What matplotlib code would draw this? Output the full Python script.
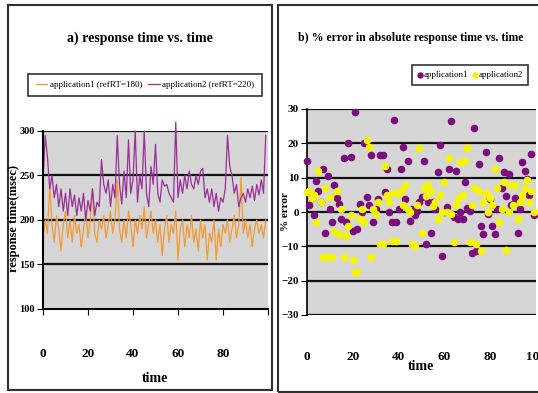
import numpy as np
import matplotlib
matplotlib.use("Agg")
import matplotlib.pyplot as plt
from matplotlib.patches import Rectangle

# data: response time (msec) per time step
t = np.arange(100)
app1_rt = [180, 200, 185, 240, 195, 175, 205, 190, 165, 195, 210, 180, 200, 175, 205, 185, 195, 170, 190, 210,
           180, 200, 235, 185, 175, 200, 190, 205, 180, 195, 210, 185, 200, 245, 190, 175, 200, 180, 210, 195,
           170, 200, 185, 205, 190, 215, 180, 195, 210, 185, 200, 175, 195, 160, 190, 205, 175, 195, 185, 210,
           155, 190, 200, 170, 195, 180, 205, 175, 190, 165, 200, 180, 195, 155, 185, 175, 200, 155, 190, 170,
           195, 185, 200, 175, 190, 205, 180, 195, 248, 185, 200, 180, 195, 170, 190, 200, 185, 195, 180, 200]
app2_rt = [245, 295, 270, 235, 250, 225, 240, 215, 235, 210, 230, 205, 235, 215, 228, 205, 225, 210, 230, 200,
           222, 210, 235, 205, 220, 215, 268, 240, 230, 245, 215, 240, 225, 295, 240, 218, 255, 225, 290, 230,
           245, 300, 220, 250, 235, 300, 230, 215, 260, 240, 285, 230, 220, 245, 238, 240, 230, 225, 220, 310,
           225, 245, 230, 250, 235, 255, 240, 235, 250, 240, 255, 258, 225, 235, 220, 235, 215, 230, 210, 225,
           220, 235, 295, 260, 250, 230, 240, 215, 225, 230, 220, 235, 225, 238, 222, 240, 228, 245, 230, 295]

# data: % error in absolute response time
app1_err = [15, 2, 4, -1, 9, 6, 3, 12.6, -6, 10.5, 1, -3, 8, 4, 2.4, -2, 15.6, -3, 20, 16,
            -5.6, 29, -5, 2.4, 0, 20, 4.5, 2, 16.5, -3, 1, 3.8, 16.5, 16.5, 5.8, 12.6, 0, -3, 26.8, -3,
            1, 12.6, 19, 3.8, 15, -2.6, 1, -1, 0.3, 3, 4.4, 15, -9.4, 2.9, -6, 3, 1, 11.7, 19.5, -12.9,
            0, 1.5, 12.6, 26.4, -1.5, 12, -2, 0, -2, 8.8, 1.2, 0.3, -11.8, 24.4, -11.5, 14, -4, -6.5, 17.6, -0.6,
            3.8, -4, -6.5, 1, 15.6, 7, 11.7, 4.7, 11, 2, 2.4, 4, -6, 1, 14.7, 12, 9.7, 5, 17, -1]
app2_err = [5.8, 6, 4, 5, -3, 12, 3, -13, 7, -13, 4.5, -13, -5.6, 6, -6.5, 1, -13, -7, -4, -1,
            -14, -17.6, -17.4, -2, 1, -3, 21, 19, -13, 1, -0.6, 3, -9.4, -9.4, 13.5, 5, 3, -8.5, 5.5, -8.5,
            5.5, 6, 2, 8, 1, 0, -9.4, -10, 2, 18.5, -6, 7, 4.7, 8, 6, 1.8, 3, -2, 5, 0,
            8.8, 0, 15.6, -0.6, -8.8, 2, 4, 14.7, 5, 15, 18.5, -8.8, 2, 7, -9.4, 6, -11.5, 3, 5.6, 0,
            4, 2, 12.6, 7, -3, 1, 8.8, -11, 0, 8, 2, 8, -2, 3, 5, 7, 9.4, 3, 6, 0]

W, H = 538, 393
fig = plt.figure(figsize=(W / 100, H / 100), dpi=100)
serif = ["Liberation Serif", "DejaVu Serif"]
fnt = dict(family=serif, fontweight="bold")

def fr(x0, y0, x1, y1):
    return [x0 / W, 1 - y1 / H, (x1 - x0) / W, (y1 - y0) / H]

# panel frames
fig.patches.append(Rectangle((8 / W, 1 - 390 / H), 264 / W, 385 / H, transform=fig.transFigure,
                             fill=False, lw=1.5, ec="#303030"))
fig.patches.append(Rectangle((278 / W, 1 - 392 / H), 262 / W, 387 / H, transform=fig.transFigure,
                             fill=False, lw=1.5, ec="#303030"))

grey = "#D6D6D6"

# a) response time
ax1 = fig.add_axes(fr(43, 131, 268, 309))
ax1.set_facecolor(grey)
ax1.plot(t, app1_rt, color="#F39A35", lw=0.9, label="application1 (refRT=180)", clip_on=False)
ax1.plot(t, app2_rt, color="#9A2F9A", lw=0.9, label="application2 (refRT=220)", clip_on=False)
ax1.set_xlim(0, 100)
ax1.set_ylim(100, 300)
ax1.set_yticks([100, 150, 200, 250, 300])
ax1.set_xticks([0, 20, 40, 60, 80, 100])
ax1.set_xticklabels(["0", "20", "40", "60", "80", ""])
for v in [150, 200, 250, 300]:
    ax1.axhline(v, color="#111111", lw=1.6, zorder=1)
for s in ["top", "right"]:
    ax1.spines[s].set_visible(False)
ax1.spines["left"].set_linewidth(1.5)
ax1.spines["bottom"].set_linewidth(1.5)
ax1.tick_params(axis="x", direction="out", length=4, pad=24, labelsize=9.5)
ax1.tick_params(axis="y", direction="out", length=4, pad=2, labelsize=7.5)
for lb in ax1.get_xticklabels() + ax1.get_yticklabels():
    lb.set(**fnt)
ax1.set_xlabel("time", fontsize=10, labelpad=9, **fnt)
fig.text(14 / W, 1 - 218 / H, "response time(msec)", rotation=90, ha="center", va="center",
         fontsize=9, **fnt)
fig.text(140 / W, 1 - 38 / H, "a) response time vs. time", ha="center", va="center",
         fontsize=10, **fnt)
leg1 = ax1.legend(loc="center", bbox_to_anchor=(145 / W, 1 - 85 / H), bbox_transform=fig.transFigure,
                  ncol=2, frameon=True, fancybox=False, edgecolor="black", handlelength=1.3,
                  handletextpad=0.3, columnspacing=0.6, borderpad=0.8,
                  prop=dict(family=serif, size=6.5))
leg1.get_frame().set_linewidth(1.2)

# b) % error
ax2 = fig.add_axes(fr(307, 109, 536, 315))
ax2.set_facecolor(grey)
ax2.scatter(t, app1_err, s=20, color="#7B0C7E", label="application1", zorder=3, clip_on=False)
ax2.scatter(t, app2_err, s=20, color="#F5F500", label="application2", zorder=3, clip_on=False)
ax2.set_xlim(0, 100)
ax2.set_ylim(-30, 30)
ax2.set_yticks(range(-30, 31, 10))
ax2.set_xticks(range(0, 101, 20))
for v in range(-30, 31, 10):
    ax2.axhline(v, color="#111111", lw=1.6, zorder=1)
for s in ["top", "right", "bottom"]:
    ax2.spines[s].set_visible(False)
ax2.spines["left"].set_linewidth(1.2)
ax2.tick_params(axis="x", length=0, pad=26, labelsize=9.5)
ax2.tick_params(axis="y", direction="out", length=4, pad=2, labelsize=8)
for lb in ax2.get_xticklabels() + ax2.get_yticklabels():
    lb.set(**fnt)
ax2.set_xlabel("time", fontsize=10, labelpad=-2, **fnt)
fig.text(285 / W, 1 - 212 / H, "% error", rotation=90, ha="center", va="center",
         fontsize=8, **fnt)
fig.text(411 / W, 1 - 38 / H, "b) % error in absolute response time vs. time", ha="center", va="center",
         fontsize=8.5, **fnt)
leg2 = ax2.legend(loc="center", bbox_to_anchor=(470 / W, 1 - 75 / H), bbox_transform=fig.transFigure,
                  ncol=2, frameon=True, fancybox=False, edgecolor="black", handlelength=0.6,
                  handletextpad=0.1, columnspacing=0.5, borderpad=0.6, markerscale=0.8,
                  prop=dict(family=serif, size=6.5))
leg2.get_frame().set_linewidth(1.2)

fig.savefig("out.png", dpi=100)
